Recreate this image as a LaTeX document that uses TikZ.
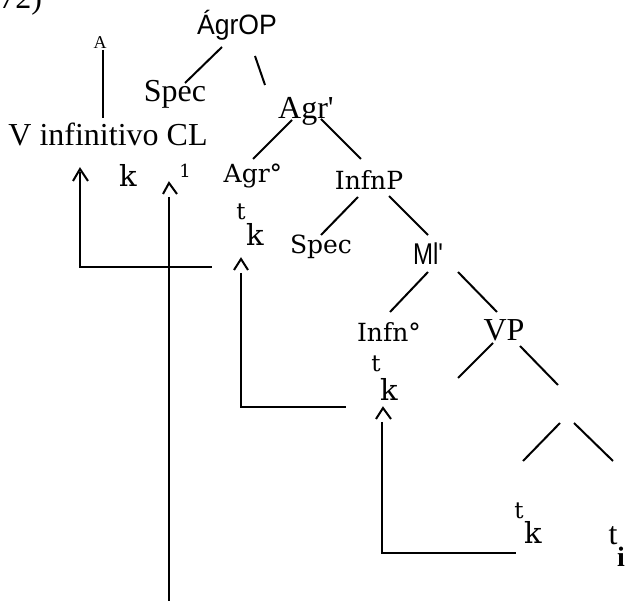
\documentclass[tikz,border=0pt]{standalone}
\usepackage{fontspec}
\setmainfont{Liberation Serif}
\newfontfamily\arialf{Liberation Sans}
\newfontfamily\slabf{DejaVu Serif}
\begin{document}
\begin{tikzpicture}[x=1pt,y=-1pt,
  every node/.style={inner sep=0pt,outer sep=0pt},
  big/.style={font=\fontsize{32}{38}\selectfont},
  slab/.style={font=\slabf\fontsize{25}{30}\selectfont},
  slabk/.style={font=\slabf\fontsize{29}{34}\selectfont},
  slabt/.style={font=\slabf\fontsize{23}{28}\selectfont},
  slabone/.style={font=\slabf\fontsize{18}{22}\selectfont},
  tiny/.style={font=\fontsize{18}{22}\selectfont},
  sans/.style={font=\arialf\fontsize{28}{32}\selectfont},
  sansml/.style={font=\arialf\fontsize{30}{34}\selectfont},
  bigi/.style={font=\fontsize{28}{32}\selectfont\bfseries},
  tree/.style={line width=2pt},
  mv/.style={line width=2.8pt},
  caret/.style={line width=2pt}]
\useasboundingbox (0,0) rectangle (627,601);
% title (partly cut off at the top)
\node[big,anchor=base east] (title) at (42,9) {72)};
% tree nodes
\node[sans,xscale=0.95,transform shape] (agrop) at (237,25) {ÁgrOP};
\node[tiny] (A) at (100,43) {A};
\node[big] (spec1) at (175,94) {Spec};
\node[big] (agrbar) at (306,111) {Agr\textquotesingle};
\node[big] (vinf) at (108,134) {V infinitivo CL};
\node[slabk] (k1) at (128,175) {k};
\node[slabone] (one) at (185,171) {1};
\node[slab] (agr0) at (253,176) {Agr°};
\node[slab] (infnp) at (369,180) {InfnP};
\node[slabt] (t1) at (241,212) {t};
\node[slabk] (k2) at (255,234) {k};
\node[slab] (spec2) at (321,247) {Spec};
\node[sansml,xscale=0.8,transform shape] (ml) at (428,254) {Ml\textquotesingle};
\node[slab] (infn0) at (389,332) {Infn°};
\node[big] (vp) at (504,330) {VP};
\node[slabt] (t2) at (376,364) {t};
\node[slabk] (k3) at (389,389) {k};
\node[slabt] (t3) at (519,511) {t};
\node[slabk] (k4) at (533,532) {k};
\node[big] (t4) at (613,536) {t};
\node[bigi] (i4) at (621,557) {i};
% connector end points
\coordinate (a1) at (222,47);  \coordinate (a2) at (185,83);
\coordinate (b1) at (255,56);  \coordinate (b2) at (265,85);
\coordinate (c1) at (292,120); \coordinate (c2) at (253,159);
\coordinate (d1) at (321,119); \coordinate (d2) at (361,159);
\coordinate (e1) at (358,197); \coordinate (e2) at (321,235);
\coordinate (f1) at (389,196); \coordinate (f2) at (428,235);
\coordinate (g1) at (428,272); \coordinate (g2) at (390,312);
\coordinate (h1) at (458,272); \coordinate (h2) at (497,312);
\coordinate (i1) at (493,343); \coordinate (i2) at (458,378);
\coordinate (j1) at (520,346); \coordinate (j2) at (558,385);
\coordinate (m1) at (560,423); \coordinate (m2) at (523,461);
\coordinate (n1) at (574,423); \coordinate (n2) at (613,461);
\coordinate (va1) at (103,50); \coordinate (va2) at (103,118);
\draw[tree] (a1) -- (a2);
\draw[tree] (b1) -- (b2);
\draw[tree] (c1) -- (c2);
\draw[tree] (d1) -- (d2);
\draw[tree] (e1) -- (e2);
\draw[tree] (f1) -- (f2);
\draw[tree] (g1) -- (g2);
\draw[tree] (h1) -- (h2);
\draw[tree] (i1) -- (i2);
\draw[tree] (j1) -- (j2);
\draw[tree] (m1) -- (m2);
\draw[tree] (n1) -- (n2);
\draw[mv] (va1) -- (va2);
% movement paths
\coordinate (p1) at (80,172);  \coordinate (p1e) at (212,267);
\coordinate (p2) at (169,197); \coordinate (p2e) at (169,601);
\coordinate (p3) at (241,273); \coordinate (p3e) at (346,407);
\coordinate (p4) at (382,422); \coordinate (p4e) at (516,553);
\draw[mv] (p1) |- (p1e);
\draw[mv] (p2) -- (p2e);
\draw[mv] (p3) |- (p3e);
\draw[mv] (p4) |- (p4e);
% carets
\draw[caret] (73,181) -- (80,169) -- (88,181);
\draw[caret] (163,194) -- (169,183) -- (177,194);
\draw[caret] (234,270) -- (241,259) -- (248,270);
\draw[caret] (376,419) -- (383,408) -- (391,419);
\end{tikzpicture}
\end{document}
